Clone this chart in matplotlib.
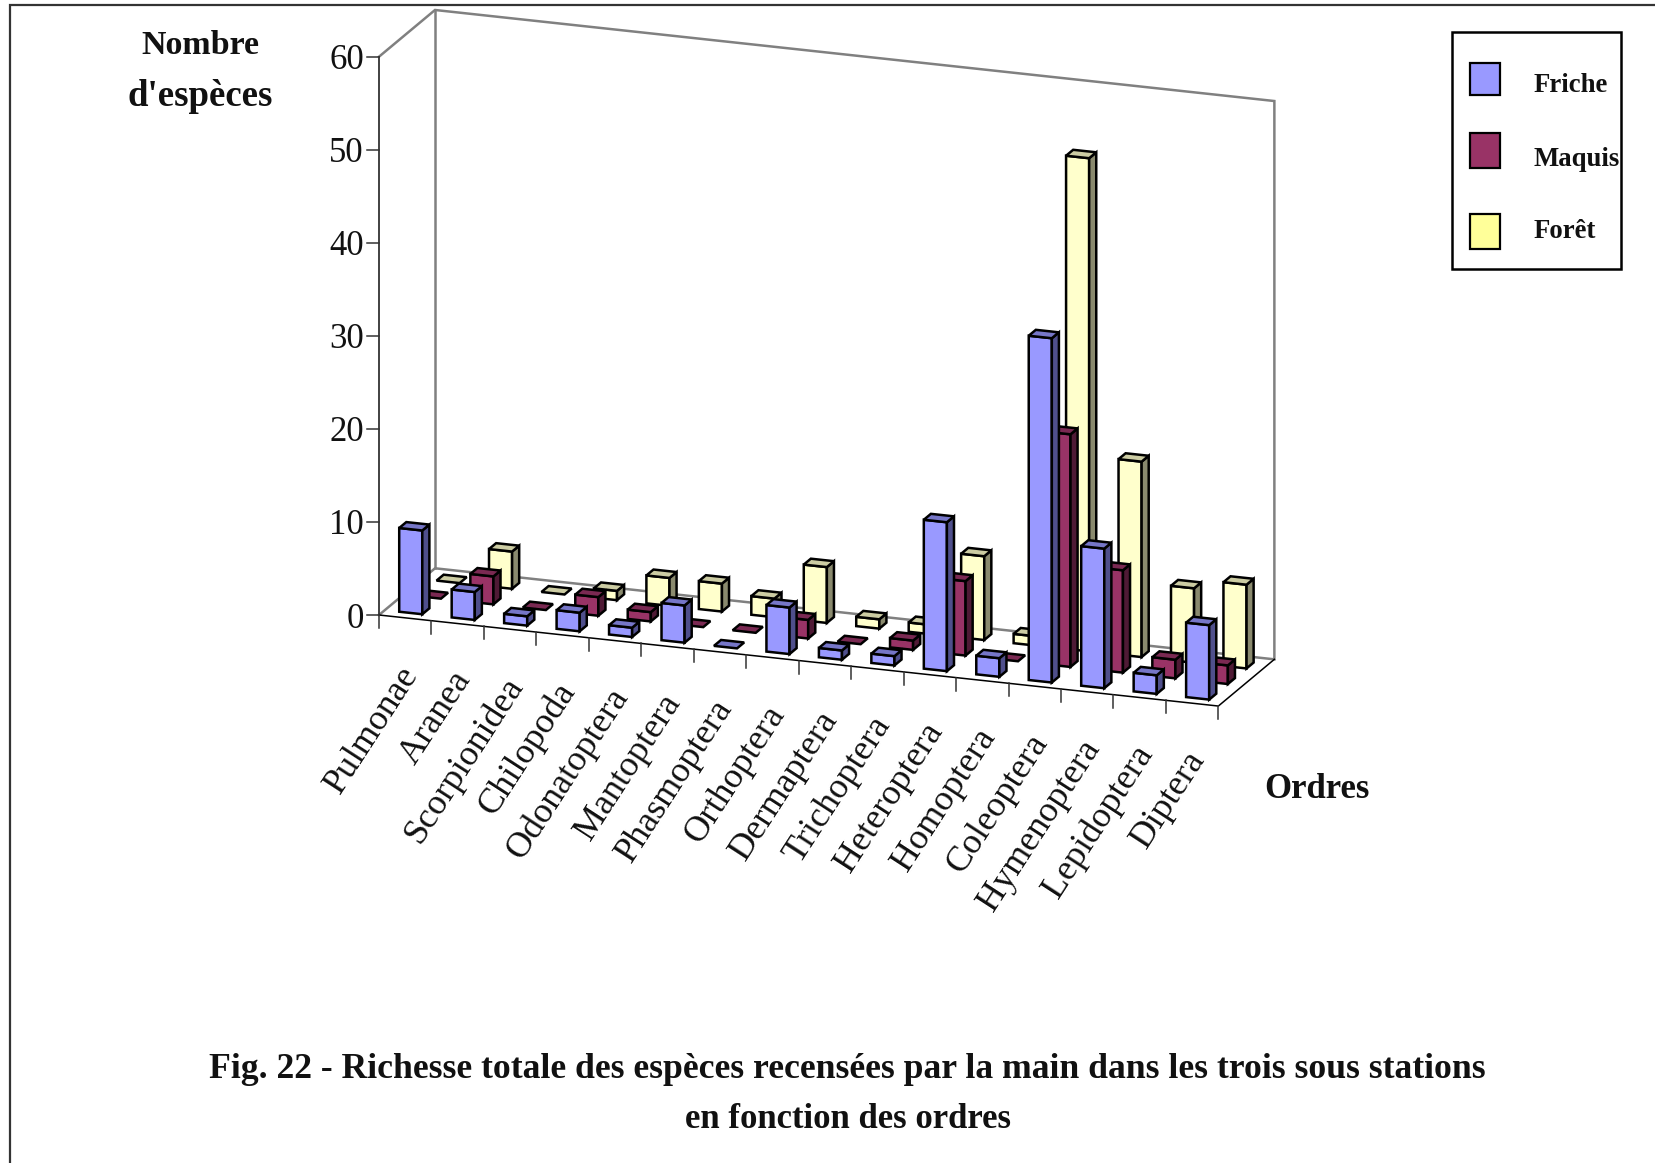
import matplotlib
matplotlib.use("Agg")
import matplotlib.pyplot as plt
from matplotlib.patches import Polygon, Rectangle

plt.rcParams['font.family'] = ['Liberation Serif', 'DejaVu Serif']

categories = ["Pulmonae", "Aranea", "Scorpionidea", "Chilopoda", "Odonatoptera", "Mantoptera",
              "Phasmoptera", "Orthoptera", "Dermaptera", "Trichoptera", "Heteroptera", "Homoptera",
              "Coleoptera", "Hymenoptera", "Lepidoptera", "Diptera"]
friche = [9, 3, 1, 2, 1, 4, 0, 5, 1, 1, 16, 2, 37, 15, 2, 8]
maquis = [0, 3, 0, 2, 1, 0, 0, 2, 0, 1, 8, 0, 25, 11, 2, 2]
foret = [0, 4, 0, 1, 3, 3, 2, 6, 1, 1, 9, 1, 53, 21, 8, 9]
series_names = ["Friche", "Maquis", "Forêt"]
y_ticks = [0, 10, 20, 30, 40, 50, 60]

# oblique projection of the 3D chart box, in image pixels
ORIGIN = (379.0, 615.0)
CAT_VEC = (52.46, 5.69)
ROW_VEC = (18.67, -15.57)
UNIT_Y = 9.305
BAR_W = 0.44
BAR_D = 0.38

FACE = [
    ("#9999FF", "#4F4F8C", "#7676C8"),
    ("#993366", "#4F1A35", "#7A2952"),
    ("#FFFFCC", "#8A8A6E", "#CCCCA3"),
]
LEGEND_FACE = ["#9999FF", "#993366", "#FFFF99"]


def P(c, r, v=0.0):
    return (ORIGIN[0] + c * CAT_VEC[0] + r * ROW_VEC[0],
            ORIGIN[1] + c * CAT_VEC[1] + r * ROW_VEC[1] - v * UNIT_Y)


fig = plt.figure(figsize=(16.55, 11.63), dpi=100)
ax = fig.add_axes([0, 0, 1, 1])
ax.set_xlim(0, 1655)
ax.set_ylim(1163, 0)
ax.axis("off")

# page frame
ax.plot([9.5, 9.5, 1655], [1163, 5, 5], color="#333333", lw=1.6, solid_joinstyle="miter")

# walls
n = len(categories)
WALL = "#808080"
wall_paths = [
    [P(0, 0, 60), P(0, 3, 60), P(n, 3, 60), P(n, 3, 0), P(0, 3, 0), P(0, 0, 0)],
    [P(0, 3, 60), P(0, 3, 0)],
]
for path in wall_paths:
    ax.plot(*zip(*path), color=WALL, lw=1.8, solid_joinstyle="miter", zorder=1)

# axes lines
ax.plot(*zip(P(0, 0, 0), P(0, 0, 60)), color="#333333", lw=1.3, zorder=2)
ax.plot(*zip(P(0, 0, 0), P(n, 0, 0), P(n, 3, 0)), color="black", lw=1.1, zorder=2)
for v in y_ticks:
    x, y = P(0, 0, v)
    ax.plot([x - 12, x], [y, y], color="#333333", lw=1.1, zorder=2)
    ax.text(x - 15, y + 4, str(v), ha="right", va="center", fontsize=25, color="#111111")
for c in range(n + 1):
    x, y = P(c, 0, 0)
    ax.plot([x, x], [y, y + 13], color="#333333", lw=1.1, zorder=2)
for c, name in enumerate(categories):
    x, y = P(c + 0.5, 0, 0)
    ax.text(x + 6, y + 51, name, rotation=57, rotation_mode="anchor",
            ha="right", va="center", fontsize=26, color="#111111")

# bars, back row first
z = 3
for r, values in reversed(list(enumerate([friche, maquis, foret]))):
    front, side, top = FACE[r]
    r0 = r + (1 - BAR_D) / 2
    r1 = r0 + BAR_D
    for c, v in enumerate(values):
        c0 = c + (1 - BAR_W) / 2 - 0.005
        c1 = c0 + BAR_W
        polys = [([P(c0, r0, v), P(c1, r0, v), P(c1, r1, v), P(c0, r1, v)], top)]
        if v > 0:
            polys.insert(0, ([P(c1, r0, 0), P(c1, r1, 0), P(c1, r1, v), P(c1, r0, v)], side))
            polys.insert(0, ([P(c0, r0, 0), P(c1, r0, 0), P(c1, r0, v), P(c0, r0, v)], front))
        for pts, col in polys:
            ax.add_patch(Polygon(pts, closed=True, facecolor=col, edgecolor="black",
                                 lw=1.8, joinstyle="miter", zorder=z))
        z += 1

# axis titles
TITLE_Z = z + 1
ax.text(200, 46, "Nombre", ha="center", va="center", fontsize=24.5, fontweight="bold", color="#111111")
ax.text(200, 97, "d'espèces", ha="center", va="center", fontsize=26.5, fontweight="bold", color="#111111")
ax.text(1317, 790, "Ordres", ha="center", va="center", fontsize=25, fontweight="bold", color="#111111")

# legend
ax.add_patch(Rectangle((1451.5, 32), 169.5, 237, facecolor="white", edgecolor="black", lw=1.8, zorder=TITLE_Z))
swatches = [(63, 32), (133, 35), (214, 35)]
label_y = [86, 160, 232]
for name, col, (sy, sh), ly in zip(series_names, LEGEND_FACE, swatches, label_y):
    ax.add_patch(Rectangle((1470, sy), 30, sh, facecolor=col, edgecolor="black", lw=1.6, zorder=TITLE_Z + 1))
    ax.text(1534, ly, name, ha="left", va="center", fontsize=19.3, fontweight="bold",
            color="#111111", zorder=TITLE_Z + 1)

# caption
ax.text(847, 1070, "Fig. 22 - Richesse totale des espèces recensées par la main dans les trois sous stations",
        ha="center", va="center", fontsize=25.7, fontweight="bold", color="#111111")
ax.text(848, 1119, "en fonction des ordres", ha="center", va="center", fontsize=25,
        fontweight="bold", color="#111111")

fig.savefig("out.png", dpi=100)
